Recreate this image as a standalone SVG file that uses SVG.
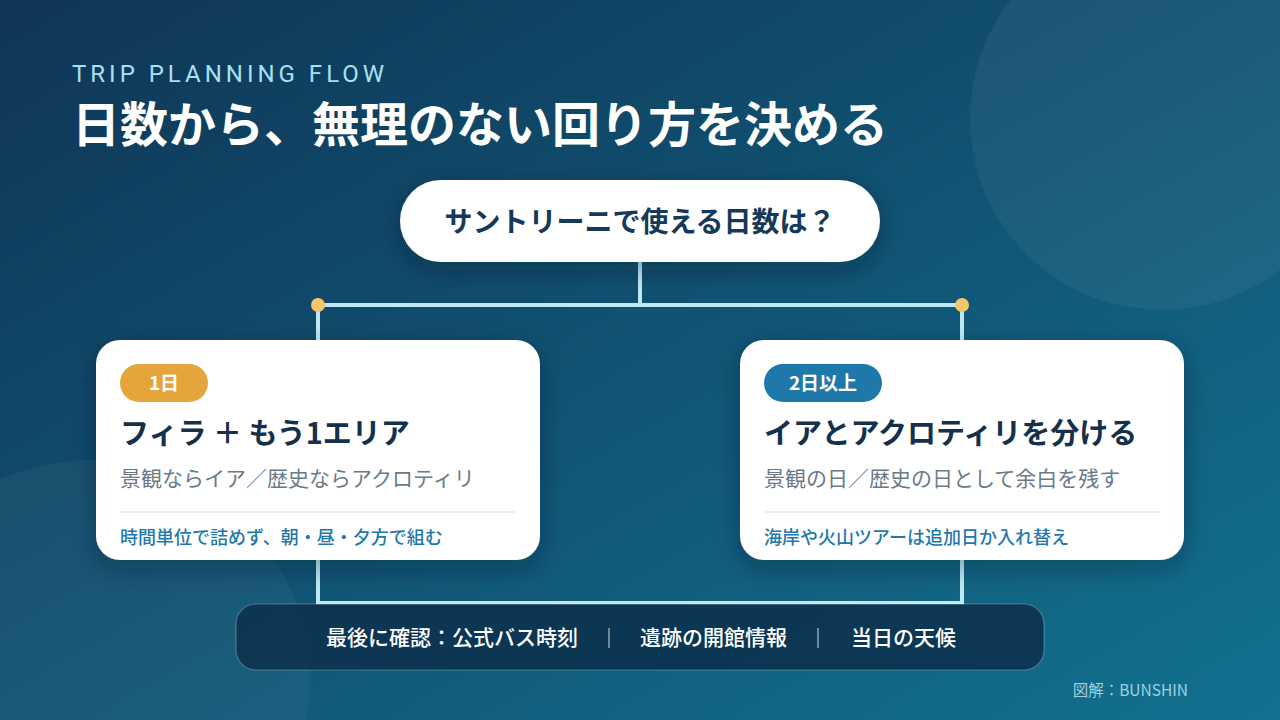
<svg xmlns="http://www.w3.org/2000/svg" width="1280" height="720" viewBox="0 0 1280 720">
  <defs>
    <linearGradient id="bg" x1="0" y1="0" x2="1" y2="1">
      <stop offset="0" stop-color="#0f3556"/>
      <stop offset="1" stop-color="#12718f"/>
    </linearGradient>
    <filter id="shadow" x="-20%" y="-20%" width="140%" height="160%">
      <feDropShadow dx="0" dy="8" stdDeviation="12" flood-color="#04182a" flood-opacity="0.35"/>
    </filter>
    <style>
      .jp { font-family: "Noto Sans CJK JP", "Noto Sans", sans-serif; }
      .card { fill: #ffffff; }
      .badge-text { font-size: 19px; font-weight: 700; fill: #ffffff; }
      .heading { font-size: 29px; font-weight: 700; fill: #15304a; }
      .sub { font-size: 21px; font-weight: 400; fill: #6b7a88; }
      .note { font-size: 18px; font-weight: 500; fill: #1f78aa; }
      .divider { stroke: #e8eff5; stroke-width: 2; }
      .conn { stroke: #bfe8f5; stroke-width: 4; fill: none; }
      .dot { fill: #f5c66a; }
      .bar-text { font-size: 21px; font-weight: 500; fill: #ffffff; }
      .sep { stroke: #ffffff; stroke-opacity: 0.55; stroke-width: 1.5; }
    </style>
  </defs>

  <rect width="1280" height="720" fill="url(#bg)"/>
  <circle cx="1162" cy="118" r="192" fill="#ffffff" fill-opacity="0.05"/>
  <circle cx="90" cy="680" r="220" fill="#ffffff" fill-opacity="0.04"/>

  <g id="header">
    <text x="72" y="82" font-family="Roboto, 'Noto Sans', sans-serif" font-size="24" letter-spacing="4" fill="#a8e0f2">TRIP PLANNING FLOW</text>
    <text x="72" y="142" class="jp" font-size="48" font-weight="700" fill="#ffffff">日数から、無理のない回り方を決める</text>
  </g>

  <g id="connectors">
    <path class="conn" d="M640 262 V305 M318 305 H962 M318 305 V340 M962 305 V340"/>
    <path class="conn" d="M318 560 V603 H962 V560"/>
    <circle class="dot" cx="318" cy="305" r="7"/>
    <circle class="dot" cx="962" cy="305" r="7"/>
  </g>

  <g id="question">
    <rect x="400" y="180" width="480" height="82" rx="41" class="card" filter="url(#shadow)"/>
    <text x="640" y="232" class="jp" font-size="28" font-weight="700" fill="#15395a" text-anchor="middle">サントリーニで使える日数は？</text>
  </g>

  <g id="one-day">
    <rect x="96" y="340" width="444" height="220" rx="24" class="card" filter="url(#shadow)"/>
    <rect x="120" y="364" width="88" height="38" rx="19" fill="#e6a53c"/>
    <text x="164" y="390" class="jp badge-text" text-anchor="middle">1日</text>
    <text x="120" y="444" class="jp heading">フィラ ＋ もう1エリア</text>
    <text x="120" y="486" class="jp sub">景観ならイア／歴史ならアクロティリ</text>
    <line x1="120" y1="512" x2="516" y2="512" class="divider"/>
    <text x="120" y="544" class="jp note">時間単位で詰めず、朝・昼・夕方で組む</text>
  </g>

  <g id="multi-day">
    <rect x="740" y="340" width="444" height="220" rx="24" class="card" filter="url(#shadow)"/>
    <rect x="764" y="364" width="118" height="38" rx="19" fill="#1f78aa"/>
    <text x="823" y="390" class="jp badge-text" text-anchor="middle">2日以上</text>
    <text x="764" y="444" class="jp heading">イアとアクロティリを分ける</text>
    <text x="764" y="486" class="jp sub">景観の日／歴史の日として余白を残す</text>
    <line x1="764" y1="512" x2="1160" y2="512" class="divider"/>
    <text x="764" y="544" class="jp note">海岸や火山ツアーは追加日か入れ替え</text>
  </g>

  <g id="final-check">
    <rect x="236" y="604" width="808" height="66" rx="20" fill="#0c304c" fill-opacity="0.85" stroke="#ffffff" stroke-opacity="0.25" stroke-width="1.2"/>
    <text x="326" y="645" class="jp bar-text">最後に確認：公式バス時刻</text>
    <line x1="609" y1="628" x2="609" y2="648" class="sep"/>
    <text x="640" y="645" class="jp bar-text">遺跡の開館情報</text>
    <line x1="818" y1="628" x2="818" y2="648" class="sep"/>
    <text x="851" y="645" class="jp bar-text">当日の天候</text>
  </g>

  <text x="1188" y="696" class="jp" font-size="15.5" fill="#9fd0e2" text-anchor="end">図解：BUNSHIN</text>
</svg>
